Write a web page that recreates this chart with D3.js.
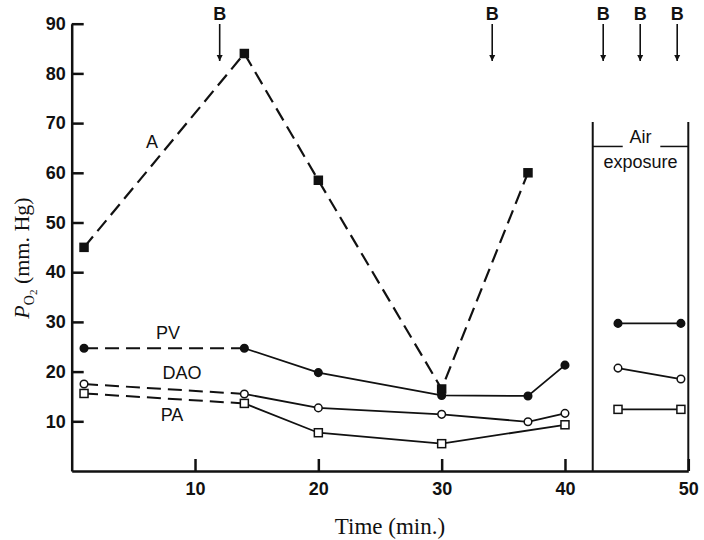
<!DOCTYPE html>
<html lang="en">
<head>
    <meta charset="UTF-8">
    <title>PO2 vs time</title>
    <script src="https://cdn.jsdelivr.net/npm/d3@7"></script>
    <style>
        body { margin: 0; background: #fff; }
        svg { display: block; }
        .tick text { font-family: "Liberation Sans", Arial, sans-serif; font-size: 18px; font-weight: bold; fill: #111; }
        .axis path, .axis line { stroke: #111; stroke-width: 2.5px; }
        .lbl { font-family: "Liberation Sans", Arial, sans-serif; font-size: 18px; font-weight: bold; fill: #111; }
        .title { font-family: "Liberation Serif", "Times New Roman", serif; font-size: 22px; fill: #111; }
    </style>
</head>
<body>
<svg id="chart" width="704" height="540"></svg>
<script>
    // times (min.)
    var aTimes = [1, 14, 20, 30, 37];
    var aValues = [45, 84, 58.5, 16.5, 60];
    var timePoints = [1, 14, 20, 30, 37, 40];
    var pvValues = [24.7, 24.7, 19.8, 15.2, 15.1, 21.3];
    var daoValues = [17.5, 15.5, 12.7, 11.4, 9.9, 11.6];
    var paTimes = [1, 14, 20, 30, 40];
    var paValues = [15.6, 13.6, 7.7, 5.5, 9.3];
    // air exposure period
    var airTimes = [44.3, 49.4];
    var pvAir = [29.7, 29.7];
    var daoAir = [20.7, 18.5];
    var paAir = [12.4, 12.4];
    var bTimes = [12, 34.1, 43.1, 46.1, 49.1];
    var xTicks = [10, 20, 30, 40, 50];
    var yTicks = [10, 20, 30, 40, 50, 60, 70, 80, 90];

    var svg = d3.select("#chart");
    var x = d3.scaleLinear().domain([0, 50]).range([71.7, 688.3]);
    var y = d3.scaleLinear().domain([0, 90]).range([471, 23.7]);

    function zip(ts, vs) {
        return ts.map(function (t, i) { return {t: t, v: vs[i]}; });
    }

    var line = d3.line()
        .x(function (d) { return x(d.t); })
        .y(function (d) { return y(d.v); });

    // arrow head
    svg.append("defs").append("marker")
        .attr("id", "head")
        .attr("viewBox", "0 0 10 10")
        .attr("refX", 10).attr("refY", 5)
        .attr("markerWidth", 6).attr("markerHeight", 9)
        .attr("markerUnits", "userSpaceOnUse")
        .attr("orient", "auto")
        .append("path").attr("d", "M0,0 L10,5 L0,10 Z").attr("fill", "#111");

    // axes
    svg.append("g").attr("class", "axis")
        .attr("transform", "translate(" + x(0) + ",0)")
        .call(d3.axisLeft(y).tickValues(yTicks).tickSize(-12).tickSizeOuter(0).tickPadding(6));

    svg.append("g").attr("class", "axis")
        .attr("transform", "translate(0," + y(0) + ")")
        .call(d3.axisBottom(x).tickValues(xTicks).tickSize(-12).tickSizeOuter(0).tickPadding(11));

    svg.selectAll(".tick text").attr("fill", "#111");

    // air exposure box
    var boxL = 42.25, boxTop = 70.2, boxDiv = 65.3;
    svg.append("line").attr("x1", x(boxL)).attr("x2", x(boxL)).attr("y1", y(boxTop)).attr("y2", y(0))
        .attr("stroke", "#111").attr("stroke-width", 2);
    svg.append("line").attr("x1", x(50)).attr("x2", x(50)).attr("y1", y(boxTop)).attr("y2", y(0))
        .attr("stroke", "#111").attr("stroke-width", 2);
    svg.append("line").attr("x1", x(boxL)).attr("x2", x(boxL) + 30).attr("y1", y(boxDiv)).attr("y2", y(boxDiv))
        .attr("stroke", "#111").attr("stroke-width", 1.5);
    svg.append("line").attr("x1", x(50) - 28).attr("x2", x(50)).attr("y1", y(boxDiv)).attr("y2", y(boxDiv))
        .attr("stroke", "#111").attr("stroke-width", 1.5);
    var boxMid = (x(boxL) + x(50)) / 2;
    svg.append("text").attr("class", "lbl").attr("x", boxMid).attr("y", y(boxDiv) - 3)
        .attr("text-anchor", "middle").style("font-weight", "normal").text("Air");
    svg.append("text").attr("class", "lbl").attr("x", boxMid).attr("y", y(boxDiv) + 22)
        .attr("text-anchor", "middle").style("font-weight", "normal").text("exposure");

    // B arrows
    bTimes.forEach(function (t) {
        svg.append("text").attr("class", "lbl").attr("x", x(t)).attr("y", 20)
            .attr("text-anchor", "middle").text("B");
        svg.append("line").attr("x1", x(t)).attr("x2", x(t)).attr("y1", 24).attr("y2", 61)
            .attr("stroke", "#111").attr("stroke-width", 1.6).attr("marker-end", "url(#head)");
    });

    var dash = "14,7";

    // A : dashed all the way
    var aData = zip(aTimes, aValues);
    svg.append("path").attr("d", line(aData)).attr("fill", "none")
        .attr("stroke", "#111").attr("stroke-width", 2.2).attr("stroke-dasharray", dash);

    // PV, DAO, PA: dashed first segment, solid after
    function series(ts, vs) {
        var d = zip(ts, vs);
        svg.append("path").attr("d", line(d.slice(0, 2))).attr("fill", "none")
            .attr("stroke", "#111").attr("stroke-width", 2).attr("stroke-dasharray", dash);
        svg.append("path").attr("d", line(d.slice(1))).attr("fill", "none")
            .attr("stroke", "#111").attr("stroke-width", 1.8);
        return d;
    }
    var pvData = series(timePoints, pvValues);
    var daoData = series(timePoints, daoValues);
    var paData = series(paTimes, paValues);

    var pvAirData = zip(airTimes, pvAir);
    var daoAirData = zip(airTimes, daoAir);
    var paAirData = zip(airTimes, paAir);
    [pvAirData, daoAirData, paAirData].forEach(function (d) {
        svg.append("path").attr("d", line(d)).attr("fill", "none")
            .attr("stroke", "#111").attr("stroke-width", 1.8);
    });

    // markers
    function circles(d, filled) {
        svg.append("g").selectAll("circle").data(d).enter().append("circle")
            .attr("cx", function (p) { return x(p.t); })
            .attr("cy", function (p) { return y(p.v); })
            .attr("r", 3.8)
            .attr("fill", filled ? "#111" : "#fff")
            .attr("stroke", "#111").attr("stroke-width", 1.5);
    }
    function squares(d, filled) {
        svg.append("g").selectAll("rect").data(d).enter().append("rect")
            .attr("x", function (p) { return x(p.t) - 4; })
            .attr("y", function (p) { return y(p.v) - 4; })
            .attr("width", 8).attr("height", 8)
            .attr("fill", filled ? "#111" : "#fff")
            .attr("stroke", "#111").attr("stroke-width", 1.5);
    }
    circles(pvData.concat(pvAirData), true);
    circles(daoData.concat(daoAirData), false);
    squares(paData.concat(paAirData), false);
    squares(aData, true);

    // series labels
    svg.append("text").attr("class", "lbl").attr("x", 152).attr("y", 148).attr("text-anchor", "middle").style("font-weight", "normal").text("A");
    svg.append("text").attr("class", "lbl").attr("x", 168).attr("y", 339).attr("text-anchor", "middle").style("font-weight", "normal").text("PV");
    svg.append("text").attr("class", "lbl").attr("x", 182).attr("y", 379).attr("text-anchor", "middle").style("font-weight", "normal").text("DAO");
    svg.append("text").attr("class", "lbl").attr("x", 172).attr("y", 421).attr("text-anchor", "middle").style("font-weight", "normal").text("PA");

    // axis titles
    svg.append("text").attr("class", "title").attr("x", 390).attr("y", 534)
        .attr("text-anchor", "middle").style("font-size", "23px").text("Time (min.)");

    var yt = svg.append("text").attr("class", "title")
        .attr("transform", "translate(29,258) rotate(-90)")
        .attr("text-anchor", "middle");
    yt.append("tspan").style("font-style", "italic").text("P");
    yt.append("tspan").attr("dy", 5).style("font-size", "14px").text("O");
    yt.append("tspan").attr("dy", 3).style("font-size", "11px").text("2");
    yt.append("tspan").attr("dy", -8).text(" (mm. Hg)");
</script>
</body>
</html>
